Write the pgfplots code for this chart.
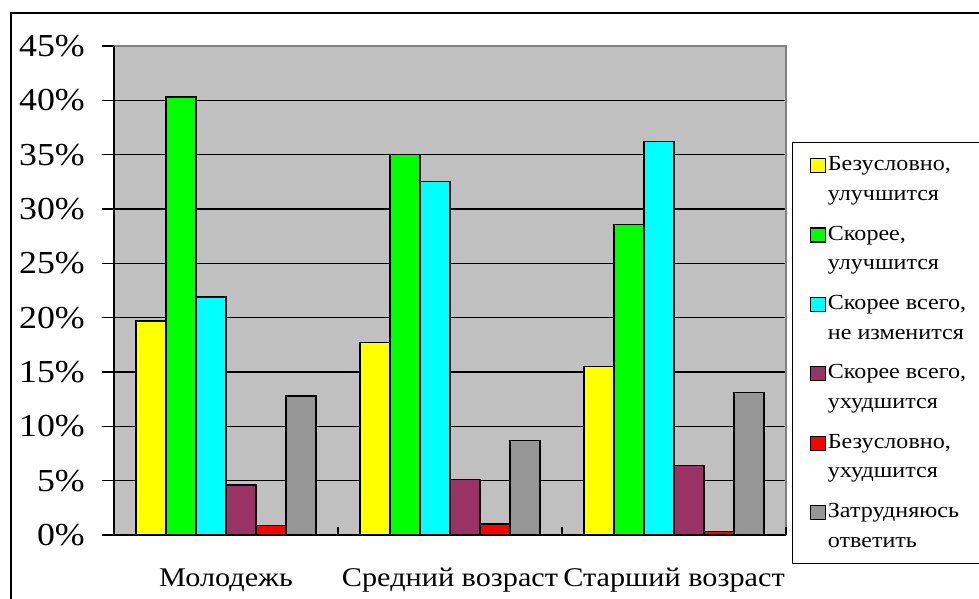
\documentclass[border=0pt]{standalone}
\usepackage{fontspec}
\setmainfont{Liberation Serif}[FakeStretch=1.12]
\usepackage{pgfplots}
\usepackage{pgfplotstable}
\pgfplotsset{compat=1.18}
\definecolor{bgray}{HTML}{C0C0C0}
\definecolor{cyel}{HTML}{FFFF00}
\definecolor{cgrn}{HTML}{00FF00}
\definecolor{ccyn}{HTML}{00FFFF}
\definecolor{cpur}{HTML}{993366}
\definecolor{cred}{HTML}{FF0000}
\definecolor{cgry}{HTML}{969696}
\definecolor{bord}{HTML}{808080}
\newcommand\twol[2]{\begin{tabular}{@{}p{160pt}@{}}#1\\#2\end{tabular}}
\pgfplotstableread{
x yel grn cyn pur red gry
0 19.7 40.3 21.9 4.6 0.9 12.8
1 17.7 35.0 32.5 5.1 1.0 8.7
2 15.5 28.6 36.2 6.4 0.3 13.1
}\data
\begin{document}
\begin{tikzpicture}
\path[use as bounding box] (-114pt,-64pt) rectangle (865pt,535pt);
\draw[line width=1.5pt] (-103pt,-200pt) rectangle (1100pt,522pt);
\begin{axis}[
  at={(0pt,0pt)}, anchor=south west,
  scale only axis, width=672pt, height=489pt,
  ybar=0pt, bar width=30pt,
  xmin=-0.5, xmax=2.5, ymin=0, ymax=45,
  axis background/.style={fill=bgray},
  axis line style={draw=none},
  tick pos=left,
  xtick={0,1,2},
  xticklabels={Молодежь, Средний возраст, Старший возраст},
  major x tick style={draw=none},
  xticklabel style={font=\fontsize{27}{27}\selectfont, anchor=base, inner sep=0pt, yshift=-39pt},
  ytick={0,5,...,45},
  yticklabel={\pgfmathprintnumber{\tick}\%},
  yticklabel style={font=\fontsize{32}{32}\selectfont, anchor=east, inner sep=0pt, xshift=-17pt},
  /pgf/number format/assume math mode=true,
  tick align=outside, major tick length=12pt,
  ytick style={black, line width=1.3pt},
  ymajorgrids, grid style={black, line width=1.3pt},
  legend style={at={(1.009,0.804)}, anchor=north west, draw=black, line width=1.3pt, fill=white,
    font=\fontsize{21.5}{29.5}\selectfont, inner xsep=17pt, inner ysep=5.6pt, row sep=6.4pt,
    nodes={text depth=}},
  legend cell align=left,
  sq/.style={legend image code/.code={\path[draw=none, fill=none] (0pt,-23pt) -- (0pt,23pt); \draw[##1, line width=1.2pt] (0pt,7pt) rectangle (15pt,21pt);}},
  after end axis/.code={
    \draw[bord, line width=1.5pt] (rel axis cs:0,1) -- (rel axis cs:1,1) -- (rel axis cs:1,0);
    \draw[black, line width=1.5pt] (rel axis cs:0,1) -- (rel axis cs:0,0) -- (rel axis cs:1,0);
    \foreach \t in {-0.5,0.5,1.5,2.5} {\draw[black, line width=1.3pt] (axis cs:\t,0) -- ++(0pt,8pt);}
  },
]
\addplot[fill=cyel, draw=black, line width=1.3pt, sq] table[x=x,y=yel] {\data};
\addlegendentry{\twol{Безусловно,}{улучшится}}
\addplot[fill=cgrn, draw=black, line width=1.3pt, sq] table[x=x,y=grn] {\data};
\addlegendentry{\twol{Скорее,}{улучшится}}
\addplot[fill=ccyn, draw=black, line width=1.3pt, sq] table[x=x,y=cyn] {\data};
\addlegendentry{\twol{Скорее всего,}{не изменится}}
\addplot[fill=cpur, draw=black, line width=1.3pt, sq] table[x=x,y=pur] {\data};
\addlegendentry{\twol{Скорее всего,}{ухудшится}}
\addplot[fill=cred, draw=black, line width=1.3pt, sq] table[x=x,y=red] {\data};
\addlegendentry{\twol{Безусловно,}{ухудшится}}
\addplot[fill=cgry, draw=black, line width=1.3pt, sq] table[x=x,y=gry] {\data};
\addlegendentry{\twol{Затрудняюсь}{ответить}}
\end{axis}
\end{tikzpicture}
\end{document}
